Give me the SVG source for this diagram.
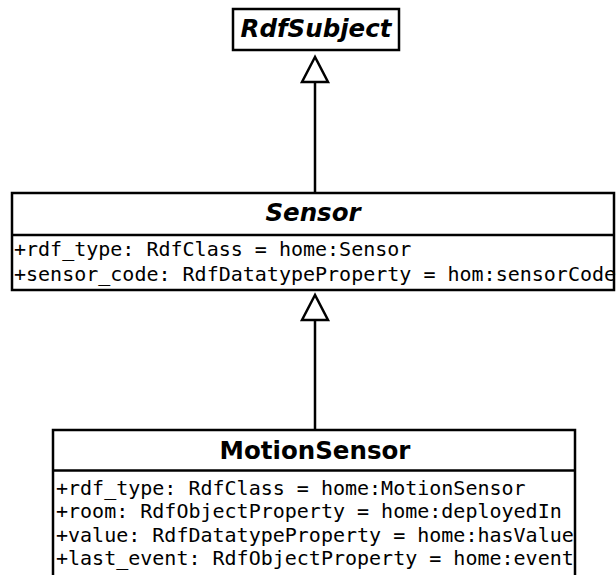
<svg xmlns="http://www.w3.org/2000/svg" width="616" height="575" viewBox="0 0 616 575">
<style>
.box{fill:#fff;stroke:#000;stroke-width:2.5}
.div{stroke:#000;stroke-width:2.5}
.title{font-family:"DejaVu Sans",sans-serif;font-weight:bold;font-size:24.5px;text-anchor:middle}
.it{font-style:oblique}
.attr{font-family:"DejaVu Sans Mono",monospace;font-size:20px}
.edge{stroke:#000;stroke-width:2.5;fill:none}
.head{fill:#fff;stroke:#000;stroke-width:2.5}
</style>
<rect width="616" height="575" fill="#fff"/>
<g id="connectors">
<line class="edge" x1="315" y1="82" x2="315" y2="193"/>
<polygon class="head" points="315,57 302,82 328,82"/>
<line class="edge" x1="315" y1="320" x2="315" y2="430"/>
<polygon class="head" points="315,295 302,320 328,320"/>
</g>
<g id="RdfSubject">
<rect class="box" x="233" y="9" width="166" height="41"/>
<text class="title it" x="316" y="37">RdfSubject</text>
</g>
<g id="Sensor">
<rect class="box" x="12" y="193" width="602" height="97"/>
<line class="div" x1="12" y1="235" x2="614" y2="235"/>
<text class="title it" x="313" y="221">Sensor</text>
<text class="attr" x="14" y="255.5">+rdf_type: RdfClass = home:Sensor</text>
<text class="attr" x="14" y="280.5">+sensor_code: RdfDatatypeProperty = hom:sensorCode</text>
</g>
<g id="MotionSensor">
<rect class="box" x="53" y="430" width="522" height="150"/>
<line class="div" x1="53" y1="470.5" x2="575" y2="470.5"/>
<text class="title" x="315" y="459">MotionSensor</text>
<text class="attr" x="56" y="494.5">+rdf_type: RdfClass = home:MotionSensor</text>
<text class="attr" x="56" y="518">+room: RdfObjectProperty = home:deployedIn</text>
<text class="attr" x="56" y="541.5">+value: RdfDatatypeProperty = home:hasValue</text>
<text class="attr" x="56" y="565">+last_event: RdfObjectProperty = home:event</text>
</g>
</svg>
